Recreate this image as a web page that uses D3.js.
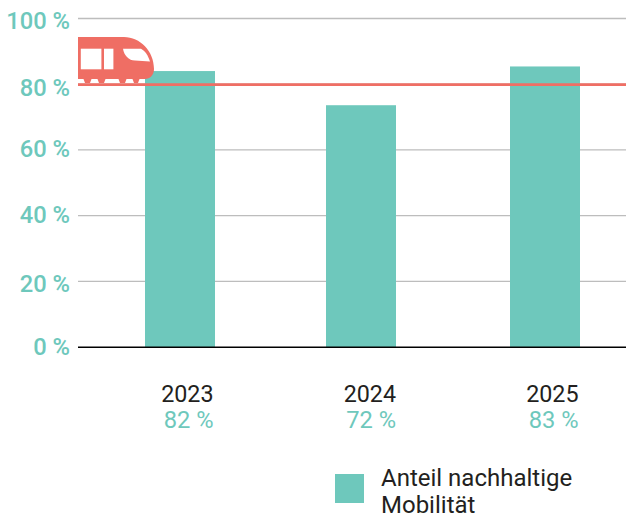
<!DOCTYPE html>
<html><head><meta charset="utf-8">
<script src="https://cdnjs.cloudflare.com/ajax/libs/d3/7.8.5/d3.min.js"></script>
<style>html,body{margin:0;padding:0;background:#fff}svg{display:block}text{font-family:Roboto,sans-serif}</style>
</head><body><div id="c"></div>
<script>
const categories=["2023","2024","2025"];
const barValues=[84,73.6,85.4];
const valueLabels=["82 %","72 %","83 %"];
const yTicks=[0,20,40,60,80,100];
const targetValue=80;
const legendLines=["Anteil nachhaltige","Mobilität"];
const teal="#6ec8bc",red="#ef6e64",dark="#231f20";

const svg=d3.select("#c").append("svg").attr("width",626).attr("height",515);
const y=d3.scaleLinear().domain([0,100]).range([347,18.5]);
const x=d3.scaleOrdinal().domain(categories).range([180,361,545]);
const labelX=d3.scaleOrdinal().domain(categories).range([213.5,396,578.5]);
const labelDy=d3.scaleOrdinal().domain(yTicks).range([8,10.5,7.5,7.5,12,10.5]);
const barW=70,left=78,right=626;

svg.append("g").selectAll("line").data(yTicks.filter(d=>d>0)).join("line")
 .attr("x1",left).attr("x2",right).attr("y1",d=>y(d)).attr("y2",d=>y(d))
 .attr("stroke","#bdbdbd").attr("stroke-width",1.3);

svg.append("g").selectAll("text").data(yTicks).join("text")
 .attr("x",70).attr("y",d=>y(d)+labelDy(d)).attr("text-anchor","end")
 .attr("font-size",23.7).attr("font-weight",500).attr("fill",teal).text(d=>d+" %");

svg.append("g").selectAll("rect").data(categories).join("rect")
 .attr("x",d=>x(d)-barW/2).attr("width",barW)
 .attr("y",(d,i)=>y(barValues[i])).attr("height",(d,i)=>y(0)-y(barValues[i])).attr("fill",teal);

svg.append("line").attr("x1",left).attr("x2",right).attr("y1",y(0)+0.3).attr("y2",y(0)+0.3).attr("stroke","#000").attr("stroke-width",1.5);
svg.append("line").attr("x1",left).attr("x2",right).attr("y1",y(targetValue)+0.4).attr("y2",y(targetValue)+0.4).attr("stroke",red).attr("stroke-width",2.6);

// train icon
const train=svg.append("g").attr("transform","translate(78,37)");
train.append("path").attr("fill",red).attr("d","M0 0H46C62 0 76 14 76 32C76 38 72 42 67 42H61.5L60 46H56L54.5 42H48.5L47 46H42L40.5 42H27.5L26 46H21L19.5 42H13.5L12 46H7L5.5 42H0Z");
train.append("rect").attr("x",2.8).attr("y",11.7).attr("width",20.6).attr("height",20.6).attr("fill","#fff");
train.append("rect").attr("x",26).attr("y",11.7).attr("width",9.4).attr("height",20.6).attr("fill","#fff");
train.append("path").attr("fill","#fff").attr("d","M45 11.7H63C67 14 70 18 72 24.5L57 23.5C50 23 46 18 45 11.7Z");

svg.append("g").selectAll("text").data(categories).join("text")
 .attr("x",d=>labelX(d)).attr("y",402).attr("text-anchor","end").attr("font-size",23.3).attr("fill",dark).text(d=>d);
svg.append("g").selectAll("text").data(valueLabels).join("text")
 .attr("x",(d,i)=>labelX(categories[i])).attr("y",428).attr("text-anchor","end").attr("font-size",23.7).attr("fill",teal).text(d=>d);

svg.append("rect").attr("x",335).attr("y",474).attr("width",29).attr("height",29).attr("fill",teal);
svg.append("g").selectAll("text").data(legendLines).join("text")
 .attr("x",381).attr("y",(d,i)=>486+i*27).attr("font-size",24).attr("fill",dark).text(d=>d);
</script></body></html>
